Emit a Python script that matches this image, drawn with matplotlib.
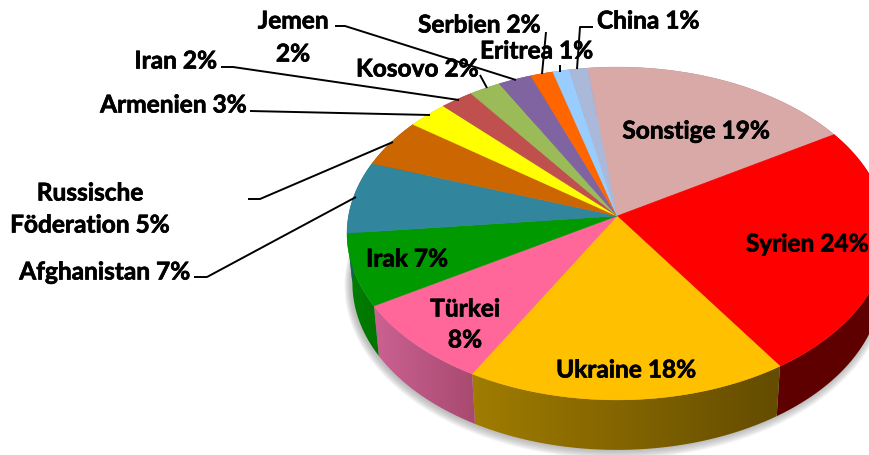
import numpy as np
import matplotlib
matplotlib.use("Agg")
import matplotlib.pyplot as plt
import matplotlib.patheffects as pe
from matplotlib.patches import Polygon
from matplotlib.colors import to_rgb

plt.rcParams['font.family'] = ['Lato', 'DejaVu Sans']

countries = ["Sonstige", "Syrien", "Ukraine", "Türkei", "Irak", "Afghanistan", "Russische Föderation",
             "Armenien", "Iran", "Kosovo", "Jemen", "Serbien", "Eritrea", "China"]
shares = [18.2, 24.4, 17.5, 8.2, 7.0, 7.0, 4.7, 2.7, 2.2, 2.1, 2.2, 1.5, 1.1, 1.2]
colors = ["#D9A9A7", "#FF0000", "#FFC000", "#FF6699", "#009900", "#31859C", "#CC6600",
          "#FFFF00", "#C0504D", "#9BBB59", "#8064A2", "#FF6600", "#99CCFF", "#AAB9D9"]
# side wall colours, left and right end of the gradient
wall_left = ["#8A6E6C", "#5F0000", "#A07C00", "#CB6192", "#007F00", "#1F5A6B", "#884400",
             "#999900", "#803432", "#677D3A", "#55426C", "#A04000", "#6688AA", "#717B90"]
wall_right = ["#8A6E6C", "#5F0000", "#644C00", "#A84A70", "#007400", "#1F5A6B", "#884400",
              "#999900", "#803432", "#677D3A", "#55426C", "#A04000", "#6688AA", "#717B90"]

# text, x, y, horizontal alignment
labels = [
    ("Jemen", 293, 21, "center"), ("2%", 293, 54, "center"),
    ("Iran 2%", 217, 61, "right"), ("Armenien 3%", 246, 105, "right"),
    ("Russische", 90, 193, "center"), ("Föderation 5%", 90, 225, "center"),
    ("Afghanistan 7%", 190, 272, "right"), ("Kosovo 2%", 356, 69, "left"),
    ("Serbien 2%", 418, 25, "left"), ("Eritrea 1%", 480, 51, "left"),
    ("China 1%", 597, 21, "left"), ("Sonstige 19%", 696, 131, "center"),
    ("Syrien 24%", 807, 244, "center"), ("Ukraine 18%", 626, 370, "center"),
    ("Türkei", 465, 309, "center"), ("8%", 465, 340, "center"), ("Irak 7%", 407, 259, "center"),
]
leaders = [
    ([335, 345, 516], [26, 26, 80]),
    ([221, 233, 459], [67, 67, 100]),
    ([250, 430], [111, 115]),
    ([248, 260, 393], [199, 199, 142]),
    ([194, 207, 356], [277, 277, 197]),
    ([480, 487], [75, 88]),
    ([546, 542], [32, 74]),
    ([560, 560], [65, 72]),
    ([593, 580, 577], [27, 27, 69]),
]

CX, CY = 617, 216
RX, RY, PERSP = 268.5, 164.6, 0.105
DEPTH = 50
START = -7.0


def project(theta):
    t = np.radians(theta)
    x, y = np.sin(t), np.cos(t)
    w = 1 + PERSP * y
    return CX + RX * x / w, CY - RY * y / w


def bottom(theta):
    x, y = project(theta)
    return CX + (x - CX) * 0.98, y + DEPTH


fig = plt.figure(figsize=(8.7, 4.55), dpi=100)
ax = fig.add_axes([0, 0, 1, 1])

edges = START + np.concatenate([[0], np.cumsum(shares)]) / np.sum(shares) * 360

# soft shadow under the pie
ring = np.linspace(0, 360, 361)
bx, by = bottom(ring)
for grow in np.linspace(7, 1, 7):
    ax.fill(CX + (bx - CX) * (1 + grow / 270) - 1, CY + 17 + (by - CY - 17) * (1 + grow / 170),
            color="#808080", alpha=0.09, lw=0, zorder=1)

# side walls
for i in range(len(shares)):
    th = np.linspace(edges[i], edges[i + 1], 80)
    tx, ty = project(th)
    lx, ly = bottom(th)
    px = np.concatenate([tx, lx[::-1]])
    py = np.concatenate([ty, ly[::-1]])
    patch = Polygon(np.column_stack([px, py]), closed=True, fc="none", ec="none", zorder=2)
    ax.add_patch(patch)
    grad = np.linspace(to_rgb(wall_left[i]), to_rgb(wall_right[i]), 64)[None, :, :]
    im = ax.imshow(grad, extent=(px.min(), px.max(), py.max(), py.min()), aspect="auto",
                   zorder=2, interpolation="bilinear")
    im.set_clip_path(patch)

# top surface
for i in range(len(shares)):
    th = np.linspace(edges[i], edges[i + 1], 80)
    tx, ty = project(th)
    ax.fill(np.concatenate([[CX], tx]), np.concatenate([[CY], ty]), color=colors[i], lw=0.3, zorder=3)

for lx, ly in leaders:
    ax.plot(lx, ly, color="black", lw=1.4, zorder=4, solid_capstyle="butt")

for text, x, y, ha in labels:
    t = ax.text(x, y, text, ha=ha, va="center", fontsize=17.6, fontweight="bold", color="black", zorder=5)
    # Calibri bold looks heavier than Lato bold
    t.set_path_effects([pe.withStroke(linewidth=0.5, foreground="black")])

ax.set_xlim(0, 870)
ax.set_ylim(455, 0)
ax.axis("off")
fig.savefig("out.png", dpi=100, facecolor="white")
